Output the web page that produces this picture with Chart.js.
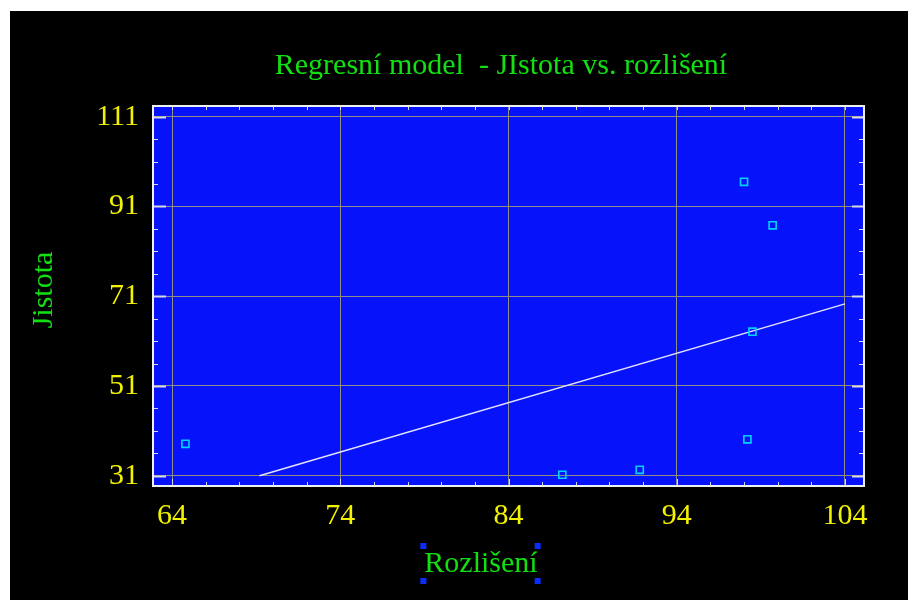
<!DOCTYPE html>
<html>
<head>
<meta charset="utf-8">
<script src="https://cdn.jsdelivr.net/npm/chart.js@4/dist/chart.umd.min.js"></script>
<style>
  html, body { margin: 0; padding: 0; background: #ffffff; }
  #wrap { width: 908px; height: 600px; }
</style>
</head>
<body>
<div id="wrap"><canvas id="c" width="908" height="600"></canvas></div>
<script>
// Observations: resolution (x) and certainty (y)
const resolution = [64.8, 87.2, 91.8, 98.0, 99.7, 98.5, 98.2];
const certainty  = [38.1, 31.2, 32.3, 96.5, 86.8, 63.1, 39.1];

// Fitted regression line, end points
const fitX = [69.2, 104.0];
const fitY = [31.0, 69.3];

// Axis tick labels
const xTicks = [64, 74, 84, 94, 104];
const yTicks = [31, 51, 71, 91, 111];

const titleText = 'Regresní model  - JIstota vs. rozlišení';
const xTitle = 'Rozlišení';
const yTitle = 'Jistota';

const SERIF = '"Liberation Serif", "Times New Roman", serif';
const GREEN = '#12e012';
const YELLOW = '#f2f200';
const BLUE = '#0612fa';

const points = resolution.map((x, i) => ({ x: x, y: certainty[i] }));
const fit = fitX.map((x, i) => ({ x: x, y: fitY[i] }));

const backdrop = {
  id: 'backdrop',
  beforeDraw(chart) {
    const { ctx, chartArea: a } = chart;
    ctx.save();
    ctx.fillStyle = '#ffffff';
    ctx.fillRect(0, 0, chart.width, chart.height);
    ctx.fillStyle = '#000000';
    ctx.fillRect(10, 11, chart.width - 10, chart.height - 11);
    ctx.fillStyle = BLUE;
    ctx.fillRect(a.left, a.top, a.right - a.left, a.bottom - a.top);
    ctx.restore();
  }
};

// Frame and inside tick marks
const frame = {
  id: 'frame',
  beforeDatasetsDraw(chart) {
    const { ctx, chartArea: a, scales: { x, y } } = chart;
    ctx.save();
    ctx.strokeStyle = '#d8d8e8';
    ctx.lineWidth = 1;
    // x minor ticks every 2 units, top and bottom
    for (let v = 64; v <= 104; v += 2) {
      const px = Math.round(x.getPixelForValue(v)) + 0.5;
      const major = xTicks.includes(v);
      ctx.beginPath();
      ctx.moveTo(px, a.bottom);
      ctx.lineTo(px, a.bottom - (major ? 7 : 4));
      ctx.moveTo(px, a.top);
      ctx.lineTo(px, a.top + 4);
      ctx.stroke();
    }
    // y ticks every 5 units, left and right
    for (let v = 31; v <= 111; v += 5) {
      const py = Math.round(y.getPixelForValue(v)) + 0.5;
      const major = yTicks.includes(v);
      ctx.lineWidth = major ? 2 : 1;
      ctx.beginPath();
      ctx.moveTo(a.left, py);
      ctx.lineTo(a.left + (major ? 13 : 5), py);
      ctx.moveTo(a.right, py);
      ctx.lineTo(a.right - (major ? 12 : 5), py);
      ctx.stroke();
    }
    ctx.strokeStyle = '#f0f0f0';
    ctx.lineWidth = 2;
    ctx.strokeRect(a.left, a.top, a.right - a.left, a.bottom - a.top);
    ctx.restore();
  }
};

// Title, axis titles and selection handles
const texts = {
  id: 'texts',
  afterDraw(chart) {
    const { ctx } = chart;
    ctx.save();
    ctx.fillStyle = GREEN;
    ctx.font = '30px ' + SERIF;
    ctx.textAlign = 'center';
    ctx.textBaseline = 'alphabetic';
    ctx.fillText(titleText, 501, 74);
    ctx.fillText(xTitle, 481, 572);
    ctx.save();
    ctx.translate(52, 290);
    ctx.rotate(-Math.PI / 2);
    ctx.fillText(yTitle, 0, 0);
    ctx.restore();
    // selection handles around the x-axis title
    ctx.fillStyle = '#0a2cff';
    const w = ctx.measureText(xTitle).width;
    const l = 481 - w / 2 - 4, r = 481 + w / 2 - 3;
    [[l, 543], [r, 543], [l, 578], [r, 578]].forEach(([hx, hy]) => ctx.fillRect(hx, hy, 6, 6));
    ctx.restore();
  }
};

new Chart(document.getElementById('c'), {
  type: 'scatter',
  data: {
    datasets: [
      {
        label: 'fit',
        data: fit,
        showLine: true,
        borderColor: '#e4e4ff',
        borderWidth: 1.5,
        pointRadius: 0,
        order: 2
      },
      {
        label: 'data',
        data: points,
        pointStyle: 'rect',
        pointRadius: 5,
        pointBorderWidth: 1.6,
        pointBorderColor: '#00d4ff',
        pointBackgroundColor: 'rgba(0,0,0,0)',
        order: 1
      }
    ]
  },
  options: {
    responsive: false,
    animation: false,
    devicePixelRatio: 1,
    layout: { padding: { left: 10, right: 44, top: 106, bottom: 0 } },
    plugins: { legend: { display: false }, tooltip: { enabled: false }, title: { display: false } },
    scales: {
      x: {
        type: 'linear',
        min: 62.87,
        max: 105.13,
        afterBuildTicks: s => { s.ticks = xTicks.map(v => ({ value: v })); },
        afterFit: s => { s.height = 114; },
        grid: { color: '#8e8e86', lineWidth: 1, drawTicks: false },
        border: { display: false },
        ticks: { color: YELLOW, font: { family: SERIF, size: 30 }, padding: 12, maxRotation: 0 }
      },
      y: {
        type: 'linear',
        min: 28.7,
        max: 113.4,
        afterBuildTicks: s => { s.ticks = yTicks.map(v => ({ value: v })); },
        afterFit: s => { s.width = 143; },
        grid: { color: '#8e8e86', lineWidth: 1, drawTicks: false },
        border: { display: false },
        ticks: { color: YELLOW, font: { family: SERIF, size: 30 }, padding: 14 }
      }
    }
  },
  plugins: [backdrop, frame, texts]
});
</script>
</body>
</html>
